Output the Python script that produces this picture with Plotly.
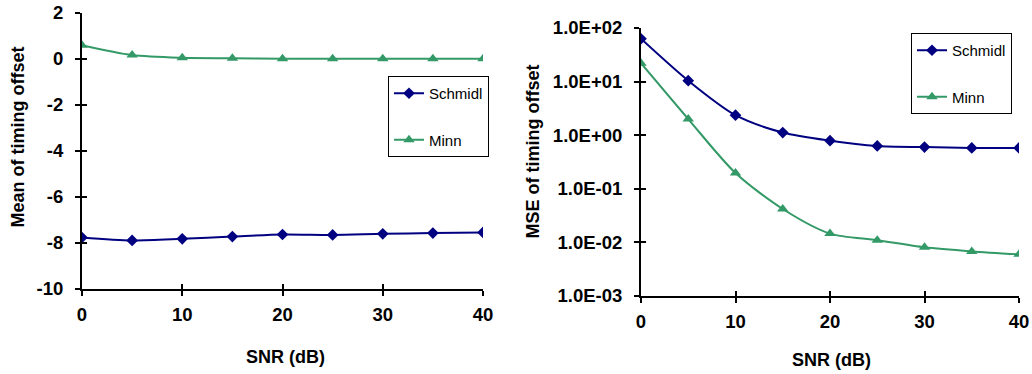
import plotly.graph_objects as go

snr = [0, 5, 10, 15, 20, 25, 30, 35, 40]
mean_schmidl = [-7.76, -7.89, -7.82, -7.72, -7.63, -7.65, -7.60, -7.57, -7.54]
mean_minn = [0.60, 0.17, 0.05, 0.03, 0.01, 0.01, 0.01, 0.01, 0.01]
mse_schmidl = [63, 10.4, 2.36, 1.12, 0.79, 0.63, 0.60, 0.58, 0.58]
mse_minn = [22, 2.0, 0.197, 0.042, 0.0146, 0.011, 0.0081, 0.0068, 0.006]

x_ticks = [0, 10, 20, 30, 40]
mean_ticks = [-10, -8, -6, -4, -2, 0, 2]
mean_ticktext = ["-10", "-8", "-6", "-4", "-2", "0", "2"]
mse_ticks = [1e-3, 1e-2, 1e-1, 1e0, 1e1, 1e2]
mse_ticktext = ["1.0E-03", "1.0E-02", "1.0E-01", "1.0E+00", "1.0E+01", "1.0E+02"]

NAVY = "#000080"
GREEN = "#339966"
W, H = 1032, 374
FONT = "Liberation Sans, Arial, sans-serif"

fig = go.Figure()

def add_series(x, y, name, color, symbol, size, xa, ya, legend, group):
    fig.add_trace(go.Scatter(
        x=x, y=y, name=name, mode="lines+markers",
        line=dict(color=color, width=2, shape="spline", smoothing=0.8),
        marker=dict(symbol=symbol, size=size, color=color),
        xaxis=xa, yaxis=ya, legend=legend, legendgroup=group,
    ))

add_series(snr, mean_schmidl, "Schmidl", NAVY, "diamond", 9, "x", "y", "legend", "a1")
add_series(snr, mean_minn, "Minn", GREEN, "triangle-up", 10, "x", "y", "legend", "a2")
add_series(snr, mse_schmidl, "Schmidl", NAVY, "diamond", 9, "x2", "y2", "legend2", "b1")
add_series(snr, mse_minn, "Minn", GREEN, "triangle-up", 10, "x2", "y2", "legend2", "b2")

# dummy traces for overlay axes (inside half of crossing ticks)
fig.add_trace(go.Scatter(x=[None], y=[None], xaxis="x3", yaxis="y3", showlegend=False, hoverinfo="skip"))
fig.add_trace(go.Scatter(x=[None], y=[None], xaxis="x4", yaxis="y4", showlegend=False, hoverinfo="skip"))

tickfont = dict(family=FONT, size=18.5, color="black", weight="bold")
L_dom_x = [82 / W, 483 / W]
L_dom_y = [1 - 289 / H, 1 - 13 / H]
R_dom_x = [641 / W, 1019 / W]
R_dom_y = [1 - 296 / H, 1 - 28 / H]

common_axis = dict(showgrid=False, zeroline=False, showline=True, linecolor="black",
                   linewidth=2, ticks="outside", ticklen=5, tickwidth=2, tickcolor="black",
                   tickfont=tickfont)
overlay_axis = dict(showgrid=False, zeroline=False, showline=False, ticks="inside",
                    ticklen=5, tickwidth=2, tickcolor="black", showticklabels=False)

legend_common = dict(xanchor="left", yanchor="top", bordercolor="black", borderwidth=1,
                     bgcolor="white", traceorder="grouped", tracegroupgap=24,
                     font=dict(family=FONT, size=15, color="black"))

fig.update_layout(
    width=W, height=H,
    margin=dict(l=0, r=0, t=0, b=0, autoexpand=False),
    paper_bgcolor="white", plot_bgcolor="white",
    xaxis=dict(domain=L_dom_x, anchor="y", range=[0, 40], tickvals=x_ticks,
               ticklabelstandoff=3, **common_axis),
    yaxis=dict(domain=L_dom_y, anchor="x", range=[-10, 2], tickvals=mean_ticks,
               ticktext=mean_ticktext, ticklabelstandoff=8, **common_axis),
    xaxis2=dict(domain=R_dom_x, anchor="y2", range=[0, 40], tickvals=x_ticks,
                ticklabelstandoff=3, **common_axis),
    yaxis2=dict(domain=R_dom_y, anchor="x2", type="log", range=[-3, 2], tickvals=mse_ticks,
                ticktext=mse_ticktext, ticklabelstandoff=8, **common_axis),
    xaxis3=dict(overlaying="x", anchor="y", range=[0, 40], tickvals=x_ticks, **overlay_axis),
    yaxis3=dict(overlaying="y", anchor="x", range=[-10, 2], tickvals=mean_ticks, **overlay_axis),
    xaxis4=dict(overlaying="x2", anchor="y2", range=[0, 40], tickvals=x_ticks, **overlay_axis),
    yaxis4=dict(overlaying="y2", anchor="x2", type="log", range=[-3, 2], tickvals=mse_ticks, **overlay_axis),
    legend=dict(x=388 / W, y=1 - 76 / H, **legend_common),
    legend2=dict(x=911 / W, y=1 - 33 / H, **legend_common),
    showlegend=True,
)

title_font = dict(family=FONT, size=18, color="black", weight="bold")
fig.add_annotation(text="Mean of timing offset", x=17 / W, y=1 - 137.5 / H, xref="paper", yref="paper",
                   textangle=-90, showarrow=False, font=title_font, xanchor="center", yanchor="middle")
fig.add_annotation(text="MSE of timing offset", x=533 / W, y=1 - 151.5 / H, xref="paper", yref="paper",
                   textangle=-90, showarrow=False, font=title_font, xanchor="center", yanchor="middle")
fig.add_annotation(text="SNR (dB)", x=285.5 / W, y=1 - 357 / H, xref="paper", yref="paper",
                   showarrow=False, font=title_font, xanchor="center", yanchor="middle")
fig.add_annotation(text="SNR (dB)", x=831.5 / W, y=1 - 360 / H, xref="paper", yref="paper",
                   showarrow=False, font=title_font, xanchor="center", yanchor="middle")

fig.write_html("out.html", config={"displayModeBar": False},
               post_script="document.body.style.margin='0';document.body.style.overflow='hidden';")
